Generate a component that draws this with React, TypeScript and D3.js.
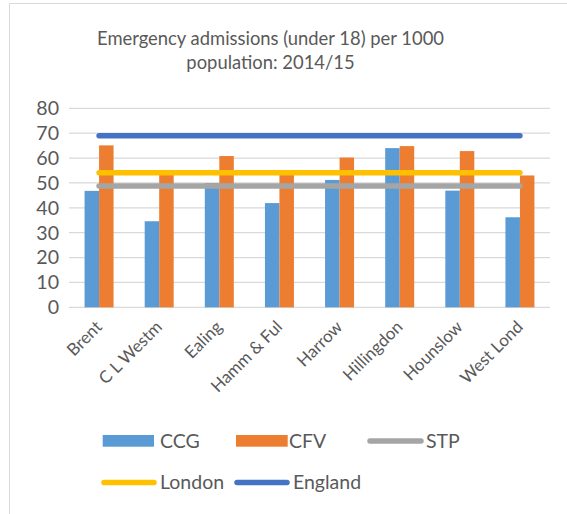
import React from "react";
import * as d3 from "d3";

const categories = ["Brent", "C L Westm", "Ealing", "Hamm & Ful", "Harrow", "Hillingdon", "Hounslow", "West Lond"];
const ccg = [46.8, 34.6, 49.9, 41.9, 51.2, 64.0, 46.9, 36.2];
const cfv = [65.1, 53.5, 60.8, 53.5, 60.2, 64.8, 62.8, 53.0];
const stpValue = 48.8;
const londonValue = 54.1;
const englandValue = 69.0;
const yTicks = [0, 10, 20, 30, 40, 50, 60, 70, 80];
const titleLines = ["Emergency admissions (under 18) per 1000", "population: 2014/15"];

const W = 567, H = 514;
const left = 69, right = 550, top = 108.3, bottom = 307.3;
const FONT = "Lato, 'Liberation Sans', sans-serif";
const TXT = "#595959";
const C = { ccg: "#5B9BD5", cfv: "#ED7D31", stp: "#A5A5A5", london: "#FFC000", england: "#4472C4" };

export default function App() {
  const x = d3.scaleBand<string>().domain(categories).range([left, right]).padding(0);
  const y = d3.scaleLinear().domain([0, 80]).range([bottom, top]);
  const barW = 14.5;
  const cx = (c: string) => (x(c) as number) + x.bandwidth() / 2;
  const x1 = cx(categories[0]);
  const x2 = cx(categories[categories.length - 1]);
  const refLines = [
    { v: stpValue, c: C.stp },
    { v: londonValue, c: C.london },
    { v: englandValue, c: C.england },
  ];
  return (
    <svg width={W} height={H} style={{ position: "absolute", left: 0, top: 0, background: "#fff" }} fontFamily={FONT}>
      <rect x={0} y={0} width={W} height={H} fill="#fff" />
      <line x1={9.5} x2={9.5} y1={3.5} y2={H} stroke="#d9d9d9" />
      <line x1={9.5} x2={W} y1={3.5} y2={3.5} stroke="#d9d9d9" />
      {titleLines.map((t, i) => (
        <text key={t} x={270.5} y={45 + i * 24} textAnchor="middle" fontSize={18.4} fill={TXT}>{t}</text>
      ))}
      {yTicks.map((t) => (
        <g key={t}>
          <line x1={left} x2={right} y1={y(t)} y2={y(t)} stroke="#d9d9d9" strokeWidth={1.2} />
          <text x={59} y={y(t)} dy="0.35em" textAnchor="end" fontSize={19.6} fill={TXT}>{t}</text>
        </g>
      ))}
      {categories.map((c, i) => (
        <g key={c}>
          <rect x={cx(c) - barW} y={y(ccg[i])} width={barW} height={bottom - y(ccg[i])} fill={C.ccg} />
          <rect x={cx(c)} y={y(cfv[i])} width={barW} height={bottom - y(cfv[i])} fill={C.cfv} />
        </g>
      ))}
      {refLines.map((r) => (
        <line key={r.c} x1={x1} x2={x2} y1={y(r.v)} y2={y(r.v)} stroke={r.c} strokeWidth={5.5} strokeLinecap="round" />
      ))}
      {categories.map((c) => (
        <text key={c} transform={`translate(${cx(c) + 4},${328}) rotate(-45)`} textAnchor="end" fontSize={17} fill={TXT}>{c}</text>
      ))}
      <g fontSize={19.5} fill={TXT}>
        <rect x={102.7} y={435} width={51.3} height={11.7} fill={C.ccg} />
        <text x={160} y={441} dy="0.35em">CCG</text>
        <rect x={236} y={435} width={51.7} height={11.7} fill={C.cfv} />
        <text x={289} y={441} dy="0.35em">CFV</text>
        <line x1={370} x2={421} y1={441} y2={441} stroke={C.stp} strokeWidth={5.5} strokeLinecap="round" />
        <text x={426} y={441} dy="0.35em">STP</text>
        <line x1={104} x2={154} y1={482.5} y2={482.5} stroke={C.london} strokeWidth={5.5} strokeLinecap="round" />
        <text x={160} y={482.5} dy="0.35em">London</text>
        <line x1={237} x2={287} y1={482.5} y2={482.5} stroke={C.england} strokeWidth={5.5} strokeLinecap="round" />
        <text x={293} y={482.5} dy="0.35em">England</text>
      </g>
    </svg>
  );
}
